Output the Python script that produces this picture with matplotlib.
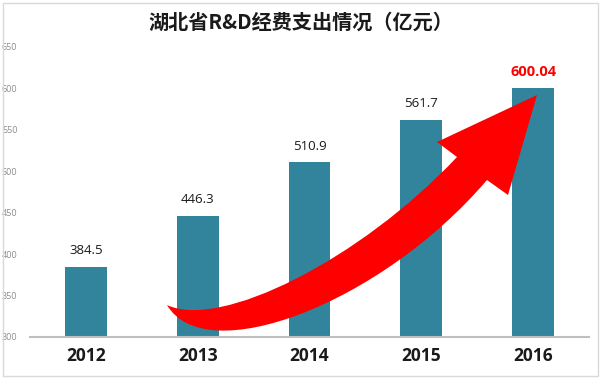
import matplotlib
matplotlib.use("Agg")
import matplotlib.pyplot as plt
from matplotlib.path import Path
from matplotlib.patches import PathPatch, Rectangle

years = ["2012", "2013", "2014", "2015", "2016"]
values = [384.5, 446.3, 510.9, 561.7, 600.04]
labels = ["384.5", "446.3", "510.9", "561.7", "600.04"]
yticks = [300, 350, 400, 450, 500, 550, 600, 650]
title = "湖北省R&D经费支出情况（亿元）"

W, H = 601, 379
fig = plt.figure(figsize=(W / 100, H / 100), dpi=100)
fig.patch.set_facecolor("white")

ax = fig.add_axes([30 / W, 1 - 337 / H, 559 / W, 290 / H])
x = list(range(len(years)))
ax.bar(x, [v - 300 for v in values], bottom=300, width=0.375, color="#31849b", zorder=2)
ax.set_xlim(-0.5, 4.5)
ax.set_ylim(300, 650)
ax.set_yticks(yticks)
ax.set_yticklabels([str(t) for t in yticks], fontsize=6.5, color="#8c8c8c", family="Open Sans")
ax.set_xticks(x)
ax.set_xticklabels(years, fontsize=12.5, fontweight="bold", family="Open Sans", color="#1a1a1a")
ax.tick_params(axis="y", length=0, pad=9)
ax.tick_params(axis="x", length=0, pad=7)
for s in ["top", "right", "left"]:
    ax.spines[s].set_visible(False)
ax.spines["bottom"].set_color("#bfbfbf")
ax.spines["bottom"].set_linewidth(1.5)

for i, (v, lab) in enumerate(zip(values, labels)):
    if i == len(values) - 1:
        ax.annotate(lab, (i, v), xytext=(0, 7), textcoords="offset points", ha="center",
                    va="bottom", fontsize=10.5, fontweight="bold", color="#ff0000", family="Open Sans")
    else:
        ax.annotate(lab, (i, v), xytext=(0, 7), textcoords="offset points", ha="center",
                    va="bottom", fontsize=9.5, color="#1a1a1a", family="Open Sans")

fig.text(0.5, 1 - 22 / H, title, ha="center", va="center", fontsize=14.5, fontweight="bold",
         family=["Noto Sans CJK SC", "DejaVu Sans"], color="#1a1a1a")

# decorative overlay (arrow + border)
ov = fig.add_axes([0, 0, 1, 1], zorder=5)
ov.set_xlim(0, W)
ov.set_ylim(H, 0)
ov.axis("off")
ov.patch.set_alpha(0)

verts = [
    (167, 305), (205, 370), (380, 305), (487, 180),  # lower edge
    (508, 195), (537, 95), (437, 142), (457, 157),   # head
    (360, 260), (220, 330), (167, 305),              # upper edge back
    (167, 305),
]
codes = [Path.MOVETO, Path.CURVE4, Path.CURVE4, Path.CURVE4,
         Path.LINETO, Path.LINETO, Path.LINETO, Path.LINETO,
         Path.CURVE4, Path.CURVE4, Path.CURVE4, Path.CLOSEPOLY]
ov.add_patch(PathPatch(Path(verts, codes), facecolor="#ff0000", edgecolor="none"))
ov.add_patch(Rectangle((3, 3), W - 6, H - 6, fill=False, edgecolor="#d9d9d9", linewidth=1))

fig.savefig("out.png", dpi=100, facecolor="white")
